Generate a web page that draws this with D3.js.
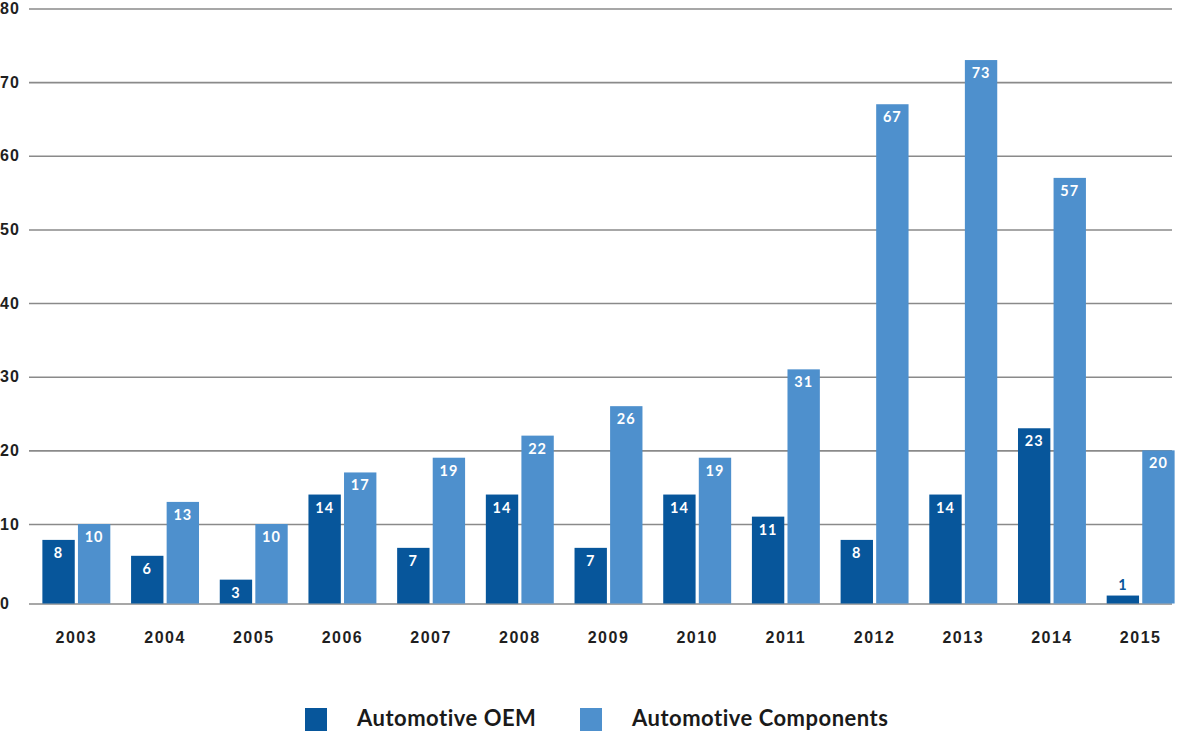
<!DOCTYPE html>
<html>
<head>
<meta charset="utf-8">
<script src="https://cdn.jsdelivr.net/npm/d3@7"></script>
<style>
  html, body { margin: 0; padding: 0; background: #fff; }
  svg { display: block; font-family: Lato, "Open Sans", sans-serif; }
</style>
</head>
<body>
<div id="diagram"></div>
<script>
// data
const years = ['2003', '2004', '2005', '2006', '2007', '2008', '2009', '2010', '2011', '2012', '2013', '2014', '2015'];
const seriesNames = ['Automotive OEM', 'Automotive Components'];
const oemValues = [8, 6, 3, 14, 7, 14, 7, 14, 11, 8, 14, 23, 1];
const componentValues = [10, 13, 10, 17, 19, 22, 26, 19, 31, 67, 73, 57, 20];
const yTicks = [0, 10, 20, 30, 40, 50, 60, 70, 80];

!(function () {
  'use strict'
  // - - - - - - - - - -
  let
    canvas = undefined,
    svg = undefined,
    rows = undefined,
    x = undefined,
    xInner = undefined,
    y = undefined,
    color = undefined,
    groups = undefined,
    legend = undefined;

  canvas = {
    width: 1184,
    height: 731,
    grid: { left: 29, right: 1172 },
    bars: { left: 32, right: 1185 },
    baseline: 603.5
  };

  rows = years.map(function (year, i) {
    return { year: year, values: [oemValues[i], componentValues[i]] };
  });

  svg = d3.select('#diagram')
    .append('svg')
    .attr('width', canvas.width)
    .attr('height', canvas.height);

  x = d3.scaleBand()
    .domain(years)
    .range([canvas.bars.left, canvas.bars.right])
    .paddingInner(0.234)
    .paddingOuter(0.117);

  xInner = d3.scaleBand()
    .domain(d3.range(seriesNames.length))
    .range([0, x.bandwidth()])
    .paddingInner(0.09);

  // the first gridline interval is a little taller in the original
  y = d3.scaleLinear()
    .domain([0, 10, 80])
    .range([canvas.baseline, 524, 8.5]);

  color = d3.scaleOrdinal()
    .domain(d3.range(seriesNames.length))
    .range(['#07569b', '#4e90cd']);

  // gridlines + y labels
  svg.append('g')
    .attr('transform', 'translate(' + canvas.grid.left + ', 0)')
    .call(d3.axisLeft(y)
      .tickValues(yTicks)
      .tickSize(-(canvas.grid.right - canvas.grid.left))
      .tickFormat(d3.format('d')))
    .call(function (g) { g.select('.domain').remove(); })
    .call(function (g) {
      g.selectAll('.tick line')
        .attr('stroke', '#8a8a8a')
        .attr('stroke-width', 1.6);
      g.selectAll('.tick text')
        .attr('x', -29)
        .attr('text-anchor', 'start')
        .attr('fill', '#1f1f1f')
        .style('font-size', '16px')
        .style('letter-spacing', '1px')
        .style('font-weight', 700);
    });

  // x labels
  svg.append('g')
    .attr('transform', 'translate(0, ' + canvas.baseline + ')')
    .call(d3.axisBottom(x).tickSize(0).tickPadding(28))
    .call(function (g) { g.select('.domain').remove(); })
    .call(function (g) {
      g.selectAll('.tick text')
        .attr('fill', '#1f1f1f')
        .style('font-size', '16px')
        .style('letter-spacing', '1.5px')
        .style('font-weight', 700);
    });

  // bars
  groups = svg.append('g')
    .selectAll('g')
    .data(rows)
    .join('g')
    .attr('transform', function (d) { return 'translate(' + x(d.year) + ', 0)'; });

  groups.selectAll('rect')
    .data(function (d) { return d.values; })
    .join('rect')
    .attr('x', function (d, i) { return xInner(i); })
    .attr('width', xInner.bandwidth())
    .attr('y', function (d) { return y(d); })
    .attr('height', function (d) { return y(0) - y(d); })
    .attr('fill', function (d, i) { return color(i); });

  // value labels: inside the bar, above it when the bar is too short
  groups.selectAll('text')
    .data(function (d) { return d.values; })
    .join('text')
    .attr('x', function (d, i) { return xInner(i) + xInner.bandwidth() / 2; })
    .attr('y', function (d) { return y(0) - y(d) < 20 ? y(d) - 6 : y(d) + 18; })
    .attr('text-anchor', 'middle')
    .attr('fill', function (d, i) { return y(0) - y(d) < 20 ? color(i) : '#fff'; })
    .style('font-size', '14.5px')
    .style('letter-spacing', '1px')
    .style('font-weight', 700)
    .text(function (d) { return d; });

  // legend
  legend = svg.append('g')
    .selectAll('g')
    .data(seriesNames)
    .join('g')
    .attr('transform', function (d, i) { return 'translate(' + (305 + i * 275) + ', 708)'; });

  legend.append('rect')
    .attr('width', 22)
    .attr('height', 23)
    .attr('fill', function (d, i) { return color(i); });

  legend.append('text')
    .attr('x', 52)
    .attr('y', 18)
    .attr('fill', '#1a1a1a')
    .style('font-size', '22px')
    .style('letter-spacing', '0.5px')
    .style('font-weight', 700)
    .text(function (d) { return d; });
  // - - - - - - - - - -
}())
</script>
</body>
</html>
